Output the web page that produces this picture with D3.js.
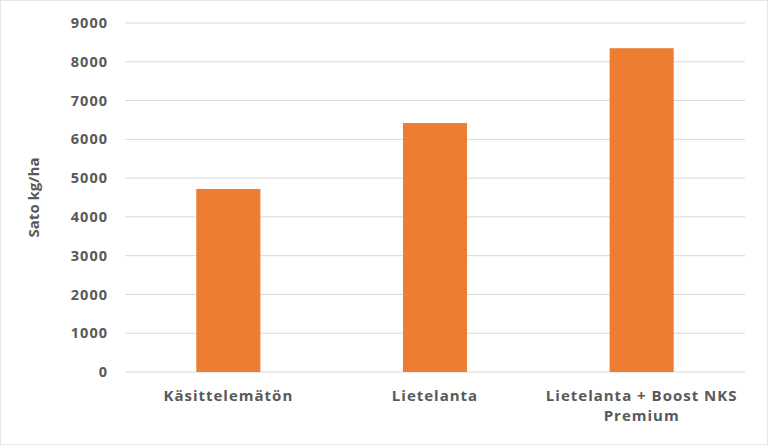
<!DOCTYPE html>
<html><head><meta charset="utf-8">
<script src="https://cdn.jsdelivr.net/npm/d3@7"></script>
<style>body{margin:0;background:#fff;font-family:"Open Sans",sans-serif}</style>
</head><body><div id="chart"></div>
<script>
var categories = [["Käsittelemätön"], ["Lietelanta"], ["Lietelanta + Boost NKS", "Premium"]];
var values = [4720, 6420, 8350];
var ticks = [0, 1000, 2000, 3000, 4000, 5000, 6000, 7000, 8000, 9000];

var margin = {top: 23, right: 23, bottom: 73, left: 125},
    width = 768 - margin.left - margin.right,
    height = 445 - margin.top - margin.bottom;

var root = d3.select("#chart").append("svg")
    .attr("width", 768).attr("height", 445);
root.append("rect").attr("x", 0.5).attr("y", 0.5).attr("width", 767).attr("height", 444)
    .attr("fill", "none").attr("stroke", "#e6e6e6");

var svg = root.append("g")
    .attr("transform", "translate(" + margin.left + "," + margin.top + ")");

var x = d3.scaleBand().domain(d3.range(values.length)).range([0, width]).paddingInner(0.69).paddingOuter(0.345);
var y = d3.scaleLinear().domain([0, 9000]).range([height, 0]);

// gridlines
svg.selectAll(".grid").data(ticks).enter().append("line")
    .attr("x1", 0).attr("x2", width)
    .attr("y1", d => y(d)).attr("y2", d => y(d))
    .attr("stroke", "#d9d9d9").attr("stroke-width", 1);

svg.selectAll(".tick-l").data(ticks).enter().append("text")
    .attr("x", -17).attr("y", d => y(d)).attr("dy", "0.35em")
    .attr("text-anchor", "end").attr("font-size", 14.5).attr("font-weight", "bold")
    .attr("letter-spacing", 1).attr("fill", "#595959").text(d => d);

svg.selectAll("rect").data(values).enter().append("rect")
    .attr("x", (d, i) => x(i)).attr("y", d => y(d))
    .attr("width", x.bandwidth()).attr("height", d => height - y(d))
    .attr("fill", "#ed7d31");

var lab = svg.selectAll(".cat").data(categories).enter().append("text")
    .attr("text-anchor", "middle").attr("font-size", 15).attr("font-weight", "bold")
    .attr("letter-spacing", 1).attr("fill", "#595959")
    .attr("transform", (d, i) => "translate(" + (x(i) + x.bandwidth() / 2) + "," + (height + 29) + ")");
lab.selectAll("tspan").data(d => d).enter().append("tspan")
    .attr("x", 0).attr("dy", (d, i) => i ? "1.3em" : 0).text(d => d);

svg.append("text")
    .attr("transform", "translate(-86," + (height / 2) + ") rotate(-90)")
    .attr("text-anchor", "middle").attr("font-size", 15).attr("font-weight", "bold")
    .attr("fill", "#595959").text("Sato kg/ha");
</script></body></html>
